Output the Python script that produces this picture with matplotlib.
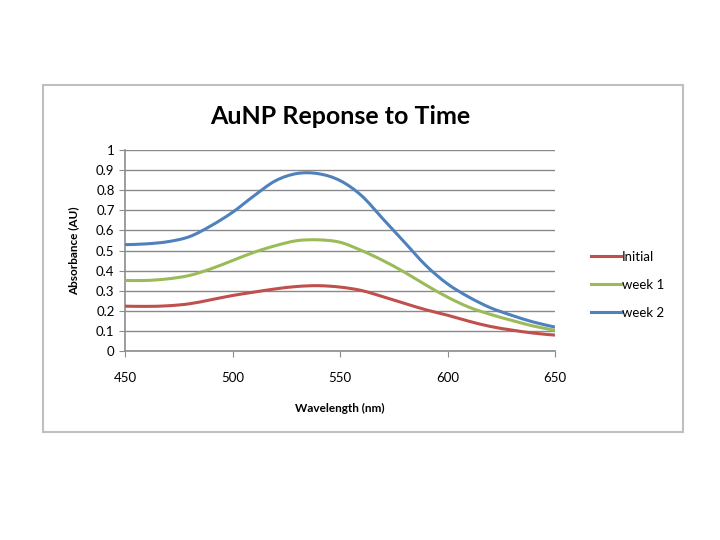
import matplotlib
matplotlib.use("Agg")
import matplotlib.pyplot as plt
from matplotlib.patches import Rectangle, PathPatch
from matplotlib.path import Path
from matplotlib.lines import Line2D

wavelength = [450, 460, 470, 480, 490, 500, 510, 520, 530, 540, 550,
              560, 570, 580, 590, 600, 610, 620, 630, 640, 650]
initial = [0.223, 0.222, 0.225, 0.235, 0.255, 0.276, 0.293, 0.309, 0.321, 0.325, 0.318,
           0.301, 0.27, 0.237, 0.205, 0.178, 0.148, 0.122, 0.104, 0.089, 0.079]
week1 = [0.351, 0.351, 0.359, 0.376, 0.409, 0.45, 0.491, 0.524, 0.549, 0.553, 0.541,
         0.50, 0.45, 0.392, 0.328, 0.268, 0.218, 0.182, 0.152, 0.124, 0.103]
week2 = [0.529, 0.533, 0.544, 0.569, 0.623, 0.69, 0.772, 0.847, 0.883, 0.882, 0.848,
         0.773, 0.657, 0.541, 0.425, 0.334, 0.268, 0.215, 0.177, 0.144, 0.119]
series_names = ["Initial", "week 1", "week 2"]
colors = ["#C0504D", "#9BBB59", "#4F81BD"]
yticks = [0, 0.1, 0.2, 0.3, 0.4, 0.5, 0.6, 0.7, 0.8, 0.9, 1]
ytick_labels = ["0", "0.1", "0.2", "0.3", "0.4", "0.5", "0.6", "0.7", "0.8", "0.9", "1"]
xticks = [450, 500, 550, 600, 650]

plt.rcParams['font.family'] = ['Lato', 'DejaVu Sans']


def smooth_path(xs, ys):
    """Excel-style smoothed line: cubic Bezier segments through the data points."""
    pts = list(zip(xs, ys))
    n = len(pts)
    verts = [pts[0]]
    codes = [Path.MOVETO]
    for i in range(n - 1):
        p0 = pts[i - 1] if i > 0 else pts[i]
        p1 = pts[i]
        p2 = pts[i + 1]
        p3 = pts[i + 2] if i + 2 < n else pts[i + 1]
        c1 = (p1[0] + (p2[0] - p0[0]) / 6, p1[1] + (p2[1] - p0[1]) / 6)
        c2 = (p2[0] - (p3[0] - p1[0]) / 6, p2[1] - (p3[1] - p1[1]) / 6)
        verts += [c1, c2, p2]
        codes += [Path.CURVE4] * 3
    return Path(verts, codes)


fig = plt.figure(figsize=(7.2, 5.4), dpi=100)
fig.patch.set_facecolor("white")
fig.patches.append(Rectangle((43/720, 1-432/540), 640/720, 347/540,
                             transform=fig.transFigure, fill=False,
                             edgecolor="#BFBFBF", linewidth=1.5))

ax = fig.add_axes([125/720, 1-351/540, 430/720, 201/540])
handles = []
for name, vals, c in zip(series_names, [initial, week1, week2], colors):
    ax.add_patch(PathPatch(smooth_path(wavelength, vals), fill=False,
                           edgecolor=c, linewidth=2.2, capstyle="butt", zorder=3))
    handles.append(Line2D([], [], color=c, linewidth=2.2, label=name))

ax.set_xlim(450, 650)
ax.set_ylim(0, 1)
ax.set_xticks(xticks)
ax.set_xticklabels([str(x) for x in xticks])
ax.set_yticks(yticks)
ax.set_yticklabels(ytick_labels)
ax.yaxis.grid(True, color="#8A8A8A", linewidth=1)
ax.set_axisbelow(True)
for s in ["top", "right"]:
    ax.spines[s].set_visible(False)
for s in ["left", "bottom"]:
    ax.spines[s].set_color("#8C8C8C")
    ax.spines[s].set_linewidth(1.2)
ax.tick_params(axis="both", colors="#8C8C8C", labelcolor="black",
               labelsize=9.5, length=4, direction="out")
ax.tick_params(axis="x", pad=11)

ax.set_title("AuNP Reponse to Time", fontsize=18, fontweight="bold", pad=19)
ax.set_xlabel("Wavelength (nm)", fontsize=8.5, fontweight="bold", labelpad=13.5)
ax.set_ylabel("Absorbance (AU)", fontsize=8.5, fontweight="bold", labelpad=12)

ax.legend(handles=handles, loc="center left", bbox_to_anchor=(1.055, 0.33),
          frameon=False, fontsize=9.5, handlelength=2.3, handletextpad=0.1,
          labelspacing=1.2)

fig.savefig("out.png", dpi=100, facecolor="white")
